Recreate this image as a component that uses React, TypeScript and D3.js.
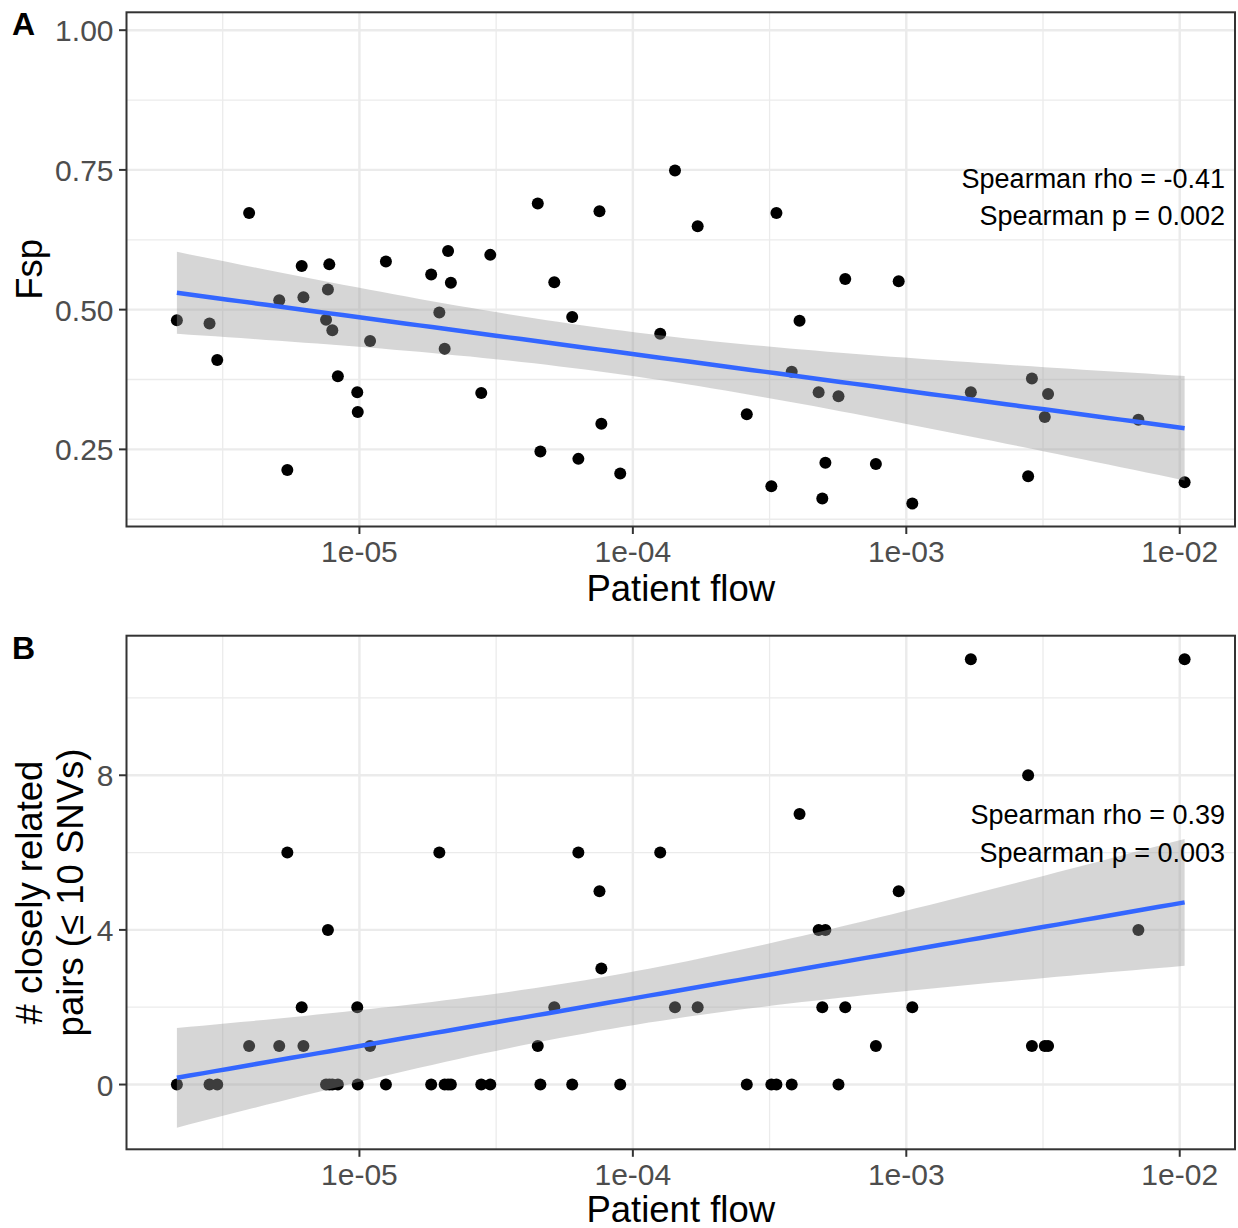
import React from "react";
import * as d3 from "d3";

// ---- Data ----
const patientFlow = [
  2.15e-6, 2.83e-6, 3.02e-6, 3.95e-6, 5.09e-6, 5.45e-6, 6.15e-6, 6.24e-6, 7.55e-6, 7.67e-6,
  7.76e-6, 7.96e-6, 8.34e-6, 9.82e-6, 9.86e-6, 1.094e-5, 1.25e-5, 1.83e-5, 1.96e-5, 2.05e-5,
  2.11e-5, 2.16e-5, 2.79e-5, 3.01e-5, 4.49e-5, 4.59e-5, 5.16e-5, 6.0e-5, 6.32e-5, 7.55e-5,
  7.67e-5, 8.99e-5, 1.259e-4, 1.426e-4, 1.726e-4, 2.61e-4, 3.21e-4, 3.35e-4, 3.81e-4, 4.07e-4,
  4.78e-4, 4.93e-4, 5.06e-4, 5.65e-4, 5.98e-4, 7.74e-4, 9.38e-4, 1.052e-3, 1.722e-3, 2.79e-3,
  2.88e-3, 3.21e-3, 3.3e-3, 7.06e-3, 1.042e-2,
];
const fspValues = [
  0.481, 0.475, 0.41, 0.673, 0.517, 0.213, 0.578, 0.522, 0.482, 0.536,
  0.581, 0.463, 0.381, 0.352, 0.317, 0.444, 0.586, 0.563, 0.495, 0.43,
  0.605, 0.548, 0.351, 0.598, 0.69, 0.246, 0.549, 0.487, 0.233, 0.676,
  0.296, 0.207, 0.457, 0.749, 0.649, 0.313, 0.184, 0.673, 0.389, 0.48,
  0.352, 0.162, 0.226, 0.345, 0.555, 0.224, 0.551, 0.153, 0.352, 0.202,
  0.377, 0.308, 0.349, 0.303, 0.191,
];
const closePairs = [
  0, 0, 0, 1, 1, 6, 2, 1, 0, 4,
  0, 0, 0, 2, 0, 1, 0, 0, 6, 0,
  0, 0, 0, 0, 1, 0, 2, 0, 6, 5,
  3, 0, 6, 2, 2, 0, 0, 0, 0, 7,
  4, 2, 4, 0, 2, 1, 5, 2, 11, 8,
  1, 1, 1, 4, 11,
];

const xTickValues = [1e-5, 1e-4, 1e-3, 1e-2];
const xTickLabels = ["1e-05", "1e-04", "1e-03", "1e-02"];
const xMinorValues = [Math.pow(10, -5.5), Math.pow(10, -4.5), Math.pow(10, -3.5), Math.pow(10, -2.5)];

const fspTicks = [0.25, 0.5, 0.75, 1.0];
const fspTickLabels = ["0.25", "0.50", "0.75", "1.00"];
const fspMinor = [0.125, 0.375, 0.625, 0.875];
const fspLimits = [0.112, 1.032];

const pairTicks = [0, 4, 8];
const pairTickLabels = ["0", "4", "8"];
const pairMinor = [2, 6, 10];
const pairLimits = [-1.675, 11.61];

const annotA = ["Spearman rho = -0.41", "Spearman p = 0.002"];
const annotB = ["Spearman rho = 0.39", "Spearman p = 0.003"];

const FONT = "'Liberation Sans', Arial, Helvetica, sans-serif";

// linear model fit with 95% CI on log10(x), like geom_smooth(method = "lm")
function lmFit(xs: number[], ys: number[], nOut = 80) {
  const lx = xs.map((v) => Math.log10(v));
  const n = lx.length;
  const mx = d3.mean(lx) as number;
  const my = d3.mean(ys) as number;
  let sxx = 0, sxy = 0;
  for (let i = 0; i < n; i++) {
    sxx += (lx[i] - mx) ** 2;
    sxy += (lx[i] - mx) * (ys[i] - my);
  }
  const b = sxy / sxx;
  const a = my - b * mx;
  let sse = 0;
  for (let i = 0; i < n; i++) sse += (ys[i] - (a + b * lx[i])) ** 2;
  const s = Math.sqrt(sse / (n - 2));
  const t = 2.0057;
  const [lo, hi] = d3.extent(lx) as [number, number];
  const out: { x: number; y: number; lo: number; hi: number }[] = [];
  for (let i = 0; i < nOut; i++) {
    const xv = lo + ((hi - lo) * i) / (nOut - 1);
    const yv = a + b * xv;
    const se = s * Math.sqrt(1 / n + (xv - mx) ** 2 / sxx);
    out.push({ x: Math.pow(10, xv), y: yv, lo: yv - t * se, hi: yv + t * se });
  }
  return out;
}

type PanelProps = {
  id: string;
  tag: string;
  tagBaseline: number;
  top: number;
  bottom: number;
  ys: number[];
  yLimits: number[];
  yTicks: number[];
  yTickLabels: string[];
  yMinor: number[];
  yTitle: string[];
  yTitleX: number[];
  annot: string[];
  annotBaselines: number[];
  xTitleBaseline: number;
};

const LEFT = 126.5;
const RIGHT = 1235;

function Panel(p: PanelProps) {
  const lx = patientFlow.map((v) => Math.log10(v));
  const [l0, l1] = d3.extent(lx) as [number, number];
  const pad = (l1 - l0) * 0.05;
  const x = d3.scaleLog().domain([Math.pow(10, l0 - pad), Math.pow(10, l1 + pad)]).range([LEFT, RIGHT]);
  const y = d3.scaleLinear().domain(p.yLimits).range([p.bottom, p.top]);
  const fit = lmFit(patientFlow, p.ys);
  const area = d3
    .area<{ x: number; lo: number; hi: number }>()
    .x((d) => x(d.x))
    .y0((d) => y(d.lo))
    .y1((d) => y(d.hi));
  const line = d3
    .line<{ x: number; y: number }>()
    .x((d) => x(d.x))
    .y((d) => y(d.y));
  const midY = (p.top + p.bottom) / 2;
  const midX = (LEFT + RIGHT) / 2;
  return (
    <g>
      <defs>
        <clipPath id={`clip-${p.id}`}>
          <rect x={LEFT} y={p.top} width={RIGHT - LEFT} height={p.bottom - p.top} />
        </clipPath>
      </defs>
      <rect x={LEFT} y={p.top} width={RIGHT - LEFT} height={p.bottom - p.top} fill="#FFFFFF" />
      {/* minor grid */}
      {p.yMinor.map((v) => (
        <line key={`ym${v}`} x1={LEFT} x2={RIGHT} y1={y(v)} y2={y(v)} stroke="#EBEBEB" strokeWidth={1.3} />
      ))}
      {xMinorValues.map((v) => (
        <line key={`xm${v}`} x1={x(v)} x2={x(v)} y1={p.top} y2={p.bottom} stroke="#EBEBEB" strokeWidth={1.3} />
      ))}
      {/* major grid */}
      {p.yTicks.map((v) => (
        <line key={`yg${v}`} x1={LEFT} x2={RIGHT} y1={y(v)} y2={y(v)} stroke="#EBEBEB" strokeWidth={2.4} />
      ))}
      {xTickValues.map((v) => (
        <line key={`xg${v}`} x1={x(v)} x2={x(v)} y1={p.top} y2={p.bottom} stroke="#EBEBEB" strokeWidth={2.4} />
      ))}
      <g clipPath={`url(#clip-${p.id})`}>
        {patientFlow.map((v, i) => (
          <circle key={i} cx={x(v)} cy={y(p.ys[i])} r={6} fill="#000000" />
        ))}
        <path d={area(fit) || ""} fill="#999999" fillOpacity={0.4} stroke="none" />
        <path d={line(fit) || ""} fill="none" stroke="#3366FF" strokeWidth={4.5} />
      </g>
      <rect x={LEFT} y={p.top} width={RIGHT - LEFT} height={p.bottom - p.top} fill="none" stroke="#333333" strokeWidth={2} />
      {/* y axis */}
      {p.yTicks.map((v, i) => (
        <g key={`yt${v}`}>
          <line x1={LEFT - 7.5} x2={LEFT} y1={y(v)} y2={y(v)} stroke="#333333" strokeWidth={2} />
          <text x={LEFT - 13} y={y(v) + 11} textAnchor="end" fontSize={30} fill="#4D4D4D" fontFamily={FONT}>
            {p.yTickLabels[i]}
          </text>
        </g>
      ))}
      {/* x axis */}
      {xTickValues.map((v, i) => (
        <g key={`xt${v}`}>
          <line x1={x(v)} x2={x(v)} y1={p.bottom} y2={p.bottom + 7.5} stroke="#333333" strokeWidth={2} />
          <text x={x(v)} y={p.bottom + 35.5} textAnchor="middle" fontSize={30} fill="#4D4D4D" fontFamily={FONT}>
            {xTickLabels[i]}
          </text>
        </g>
      ))}
      <text x={midX} y={p.xTitleBaseline} textAnchor="middle" fontSize={36.5} fill="#000000" fontFamily={FONT}>
        Patient flow
      </text>
      {p.yTitle.map((t, i) => (
        <text
          key={`ytt${i}`}
          transform={`translate(${p.yTitleX[i]},${midY}) rotate(-90)`}
          textAnchor="middle"
          fontSize={36.5}
          fill="#000000"
          fontFamily={FONT}
        >
          {t}
        </text>
      ))}
      {p.annot.map((t, i) => (
        <text key={`an${i}`} x={1225} y={p.annotBaselines[i]} textAnchor="end" fontSize={27} fill="#000000" fontFamily={FONT}>
          {t}
        </text>
      ))}
      <text x={12} y={p.tagBaseline} fontSize={32} fontWeight="bold" fill="#000000" fontFamily={FONT}>
        {p.tag}
      </text>
    </g>
  );
}

export default function App() {
  return (
    <div style={{ position: "absolute", left: 0, top: 0 }}>
      <svg width={1238} height={1228} style={{ display: "block", background: "#FFFFFF" }}>
        <rect x={0} y={0} width={1238} height={1228} fill="#FFFFFF" />
        <Panel
          id="a"
          tag="A"
          tagBaseline={35}
          top={12.3}
          bottom={526.5}
          ys={fspValues}
          yLimits={fspLimits}
          yTicks={fspTicks}
          yTickLabels={fspTickLabels}
          yMinor={fspMinor}
          yTitle={["Fsp"]}
          yTitleX={[42]}
          annot={annotA}
          annotBaselines={[188, 225]}
          xTitleBaseline={601}
        />
        <Panel
          id="b"
          tag="B"
          tagBaseline={659}
          top={635.7}
          bottom={1149.3}
          ys={closePairs}
          yLimits={pairLimits}
          yTicks={pairTicks}
          yTickLabels={pairTickLabels}
          yMinor={pairMinor}
          yTitle={["# closely related", "pairs (\u2264 10 SNVs)"]}
          yTitleX={[42, 83]}
          annot={annotB}
          annotBaselines={[824, 862]}
          xTitleBaseline={1222}
        />
      </svg>
    </div>
  );
}
